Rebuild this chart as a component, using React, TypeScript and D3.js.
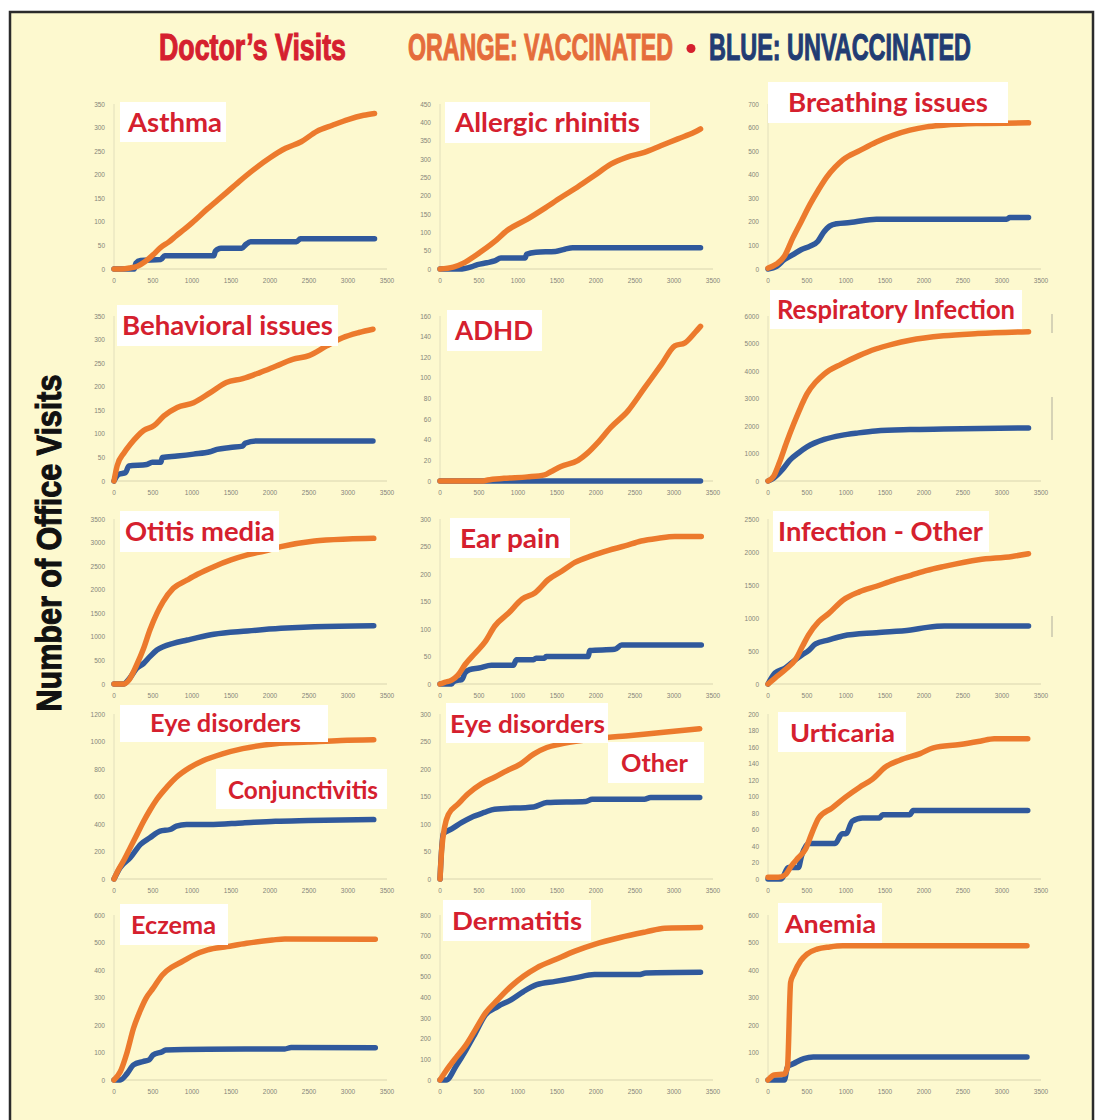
import { useLayoutEffect, useRef, useState } from 'react';
import * as d3 from 'd3';

type Pt = [number, number];

// ---- data (days since birth vs. cumulative office visits) ----
const dayTicks = [0, 500, 1000, 1500, 2000, 2500, 3000, 3500];

const conditions = [
  'Asthma', 'Allergic rhinitis', 'Breathing issues',
  'Behavioral issues', 'ADHD', 'Respiratory Infection',
  'Otitis media', 'Ear pain', 'Infection - Other',
  'Eye disorders Conjunctivitis', 'Eye disorders Other', 'Urticaria',
  'Eczema', 'Dermatitis', 'Anemia',
];
const yMaxes = [350, 450, 700, 350, 160, 6000, 3500, 300, 2500, 1200, 300, 200, 600, 800, 600];
const ySteps = [50, 50, 100, 50, 20, 1000, 500, 50, 500, 200, 50, 20, 100, 100, 100];

const asthmaVax: Pt[] = [[0, 0], [100, 0], [200, 2], [300, 6], [400, 16], [500, 30], [600, 46], [700, 57], [800, 71], [900, 84], [1000, 98], [1200, 128], [1400, 156], [1600, 185], [1800, 212], [2000, 236], [2200, 256], [2400, 270], [2600, 292], [2800, 305], [3000, 317], [3200, 326], [3340, 330]];
const asthmaUnvax: Pt[] = [[0, 0], [260, 0], [280, 12], [340, 18], [600, 20], [650, 28], [1280, 28], [1300, 38], [1370, 44], [1640, 44], [1690, 52], [1750, 58], [2340, 58], [2390, 64], [3340, 64]];

const allergicVax: Pt[] = [[0, 0], [170, 5], [300, 16], [470, 39], [690, 73], [860, 105], [1120, 136], [1330, 164], [1550, 195], [1760, 223], [1980, 255], [2190, 286], [2400, 305], [2620, 318], [2830, 336], [3050, 355], [3260, 373], [3340, 382]];
const allergicUnvax: Pt[] = [[0, 0], [250, 0], [400, 6], [480, 12], [600, 17], [700, 22], [780, 30], [1090, 30], [1110, 40], [1230, 46], [1480, 48], [1600, 54], [1700, 58], [3340, 58]];

const breathingVax: Pt[] = [[0, 4], [110, 21], [210, 54], [320, 133], [430, 204], [540, 275], [640, 332], [750, 389], [860, 432], [960, 463], [1180, 503], [1390, 539], [1600, 567], [1820, 589], [2030, 603], [2250, 610], [2670, 617], [3340, 620]];
const breathingUnvax: Pt[] = [[0, 0], [110, 11], [210, 40], [320, 61], [430, 83], [540, 97], [640, 118], [710, 154], [790, 182], [880, 192], [1050, 197], [1390, 211], [3060, 211], [3100, 218], [3340, 218]];

const behavioralVax: Pt[] = [[0, 0], [40, 32], [130, 60], [210, 78], [300, 95], [380, 107], [510, 117], [640, 138], [810, 156], [1020, 166], [1230, 187], [1440, 209], [1650, 217], [1870, 230], [2080, 244], [2290, 258], [2500, 266], [2720, 286], [2930, 304], [3140, 315], [3320, 322]];
const behavioralUnvax: Pt[] = [[0, 0], [60, 14], [150, 18], [190, 32], [420, 35], [490, 40], [600, 40], [620, 50], [810, 53], [1020, 57], [1230, 62], [1320, 67], [1490, 71], [1650, 74], [1680, 80], [1820, 85], [3320, 85]];

const adhdVax: Pt[] = [[0, 0], [560, 0], [610, 1], [820, 2.6], [1120, 4], [1340, 6], [1420, 9], [1550, 14], [1770, 20], [1890, 27], [2020, 37], [2190, 52], [2410, 68], [2620, 90], [2840, 113], [3010, 131], [3140, 134], [3270, 144], [3340, 150]];
const adhdUnvax: Pt[] = [[0, 0], [3340, 0]];

const respVax: Pt[] = [[0, 0], [70, 160], [150, 700], [240, 1420], [330, 2080], [420, 2690], [500, 3170], [610, 3590], [720, 3890], [940, 4250], [1160, 4550], [1380, 4800], [1600, 4980], [1820, 5120], [2250, 5280], [2690, 5360], [3340, 5430]];
const respUnvax: Pt[] = [[0, 0], [70, 100], [180, 400], [280, 760], [390, 1020], [500, 1240], [720, 1510], [940, 1660], [1160, 1750], [1380, 1820], [1820, 1870], [2250, 1890], [3340, 1930]];

const otitisVax: Pt[] = [[0, 0], [120, 0], [200, 106], [290, 403], [380, 757], [460, 1146], [550, 1499], [630, 1747], [760, 2030], [940, 2207], [1070, 2327], [1280, 2489], [1500, 2631], [1710, 2737], [1930, 2822], [2140, 2914], [2570, 3034], [3000, 3076], [3330, 3090]];
const otitisUnvax: Pt[] = [[0, 0], [120, 0], [200, 120], [290, 332], [380, 438], [460, 580], [550, 721], [630, 792], [760, 863], [940, 933], [1070, 983], [1280, 1054], [1710, 1124], [2140, 1181], [2570, 1216], [3330, 1237]];

const earVax: Pt[] = [[0, 0], [60, 3], [150, 7], [230, 16], [320, 35], [450, 56], [580, 77], [700, 105], [880, 129], [1050, 154], [1220, 166], [1390, 190], [1560, 205], [1730, 221], [1940, 233], [2160, 243], [2370, 251], [2580, 260], [2800, 265], [3010, 268], [3350, 268]];
const earUnvax: Pt[] = [[0, 0], [150, 0], [170, 4], [240, 7], [280, 8], [320, 20], [380, 26], [500, 29], [660, 34], [940, 34], [980, 44], [1200, 44], [1230, 47], [1340, 47], [1360, 50], [1900, 50], [1920, 61], [2240, 63], [2330, 71], [3350, 71]];

const infOtherVax: Pt[] = [[0, 0], [90, 90], [220, 216], [350, 366], [440, 567], [520, 743], [650, 944], [780, 1069], [960, 1270], [1170, 1396], [1390, 1481], [1610, 1571], [1830, 1647], [2040, 1722], [2260, 1782], [2700, 1883], [3130, 1933], [3340, 1973]];
const infOtherUnvax: Pt[] = [[0, 0], [90, 166], [220, 241], [350, 366], [440, 442], [520, 507], [610, 607], [780, 668], [960, 728], [1390, 778], [1830, 818], [2040, 858], [2260, 878], [3340, 878]];

const eyeConjVax: Pt[] = [[0, 0], [50, 60], [130, 140], [210, 230], [300, 330], [380, 420], [460, 500], [550, 580], [680, 670], [800, 740], [970, 810], [1140, 860], [1390, 910], [1650, 948], [2070, 984], [2490, 996], [2910, 1008], [3330, 1013]];
const eyeConjUnvax: Pt[] = [[0, 0], [80, 84], [210, 156], [340, 252], [460, 300], [590, 348], [720, 360], [800, 384], [930, 396], [1220, 396], [1650, 408], [2070, 420], [2490, 425], [3330, 432]];

const eyeOtherVax: Pt[] = [[0, 0], [20, 50], [60, 95], [110, 118], [230, 136], [360, 155], [530, 173], [700, 185], [860, 197], [1030, 209], [1200, 227], [1370, 239], [1530, 245], [1870, 253], [2040, 256], [2450, 261], [2870, 267], [3330, 273]];
const eyeOtherUnvax: Pt[] = [[0, 0], [40, 82], [150, 91], [280, 103], [400, 112], [570, 121], [700, 127], [1200, 131], [1370, 139], [1870, 141], [1950, 145], [2620, 145], [2700, 148], [3330, 148]];

const urticariaVax: Pt[] = [[0, 2], [130, 2], [220, 5], [300, 16], [390, 26], [480, 36], [560, 55], [650, 74], [820, 86], [990, 99], [1170, 111], [1340, 121], [1510, 136], [1690, 144], [1950, 152], [2120, 159], [2460, 163], [2720, 167], [2900, 170], [3330, 170]];
const urticariaUnvax: Pt[] = [[0, 0], [170, 0], [260, 14], [390, 14], [430, 28], [520, 43], [860, 43], [950, 55], [1000, 55], [1080, 70], [1210, 74], [1430, 74], [1470, 78], [1820, 78], [1860, 83], [3330, 83]];

const eczemaVax: Pt[] = [[0, 0], [80, 30], [170, 103], [250, 188], [330, 248], [410, 297], [500, 333], [620, 382], [750, 412], [870, 430], [1030, 455], [1200, 473], [1450, 485], [1700, 497], [2030, 509], [2190, 513], [3350, 512]];
const eczemaUnvax: Pt[] = [[0, 0], [80, 0], [170, 24], [250, 55], [370, 67], [450, 73], [500, 91], [620, 103], [660, 109], [1200, 112], [2190, 113], [2270, 118], [3350, 117]];

const dermatitisVax: Pt[] = [[0, 0], [80, 46], [210, 111], [330, 168], [450, 242], [580, 323], [740, 389], [910, 454], [1070, 503], [1240, 544], [1480, 584], [1730, 625], [1980, 658], [2310, 691], [2640, 718], [2880, 736], [3340, 740]];
const dermatitisUnvax: Pt[] = [[0, 0], [80, 0], [210, 70], [330, 144], [450, 225], [580, 315], [740, 356], [910, 389], [1070, 429], [1240, 462], [1480, 478], [1730, 495], [1980, 511], [2550, 511], [2640, 519], [3340, 522]];

const anemiaVax: Pt[] = [[0, 0], [80, 18], [210, 22], [250, 48], [290, 355], [330, 386], [420, 434], [500, 458], [630, 476], [790, 484], [960, 488], [3320, 488]];
const anemiaUnvax: Pt[] = [[0, 0], [210, 0], [250, 48], [330, 60], [460, 78], [580, 84], [3320, 84]];

const vaccinated = [asthmaVax, allergicVax, breathingVax, behavioralVax, adhdVax, respVax, otitisVax, earVax, infOtherVax, eyeConjVax, eyeOtherVax, urticariaVax, eczemaVax, dermatitisVax, anemiaVax];
const unvaccinated = [asthmaUnvax, allergicUnvax, breathingUnvax, behavioralUnvax, adhdUnvax, respUnvax, otitisUnvax, earUnvax, infOtherUnvax, eyeConjUnvax, eyeOtherUnvax, urticariaUnvax, eczemaUnvax, dermatitisUnvax, anemiaUnvax];

// ---- layout ----
const W = 1097;
const H = 1120;
const colX = [114, 440, 768];
const rowY = [269, 481, 684, 879, 1080];
const plotW = 273;
const plotH = 165;

const ORANGE = '#ec7a2d';
const BLUE = '#30599c';
const RED = '#d5202e';
const CREAM = '#fdf9cf';
const HEAVY = "'Liberation Sans', Arial, sans-serif";

// label boxes: [x, y, w, h, textX, textWidth, fontSize, text]
type Box = [number, number, number, number, number, number, number, string];
const labelBoxes: Box[][] = [
  [[120, 102, 106, 40, 128, 94, 27, 'Asthma']],
  [[445, 102, 205, 41, 455, 185, 27, 'Allergic rhinitis']],
  [[768, 82, 240, 41, 788, 200, 27, 'Breathing issues']],
  [[117, 305, 221, 41, 122, 211, 27, 'Behavioral issues']],
  [[447, 310, 95, 41, 455, 78, 27, 'ADHD']],
  [[770, 290, 252, 39, 777, 238, 26, 'Respiratory Infection']],
  [[120, 511, 159, 41, 125, 150, 27, 'Otitis media']],
  [[450, 518, 120, 40, 460, 100, 27, 'Ear pain']],
  [[773, 511, 216, 41, 778, 205, 27, 'Infection - Other']],
  [[120, 705, 208, 37, 150, 151, 24, 'Eye disorders'], [216, 769, 171, 40, 228, 150, 24, 'Conjunctivitis']],
  [[446, 703, 162, 40, 450, 155, 24, 'Eye disorders'], [608, 742, 96, 41, 621, 67, 24, 'Other']],
  [[778, 712, 128, 40, 790, 105, 25, 'Urticaria']],
  [[120, 904, 108, 41, 131, 85, 25, 'Eczema']],
  [[443, 900, 148, 41, 452, 130, 25, 'Dermatitis']],
  [[778, 903, 104, 40, 785, 91, 25, 'Anemia']],
];

// heavy text squeezed horizontally to a target width (poster-style condensed type)
function FitText({ x, y, width, size, fill, rotate = 0, anchor = 'start', children }:
  { x: number; y: number; width: number; size: number; fill: string; rotate?: number; anchor?: string; children: string }) {
  const ref = useRef<SVGTextElement>(null);
  const [sx, setSx] = useState(0.6);
  useLayoutEffect(() => {
    if (!ref.current) return;
    const natural = ref.current.getComputedTextLength();
    if (natural > 0) setSx(width / natural);
  }, [width, children]);
  return (
    <text ref={ref} transform={`translate(${x},${y}) rotate(${rotate}) scale(${sx},1)`}
      textAnchor={anchor} fontSize={size} fontWeight={700} fill={fill} stroke={fill}
      strokeWidth={1.1} fontFamily={HEAVY}>{children}</text>
  );
}

function Panel({ i }: { i: number }) {
  const col = i % 3;
  const row = Math.floor(i / 3);
  const x0 = colX[col];
  const y0 = rowY[row];
  const x = d3.scaleLinear().domain([0, 3500]).range([x0, x0 + plotW]);
  const y = d3.scaleLinear().domain([0, yMaxes[i]]).range([y0, y0 - plotH]);
  const yTicks = d3.range(0, yMaxes[i] + 1e-6, ySteps[i]);
  const line = d3.line<Pt>()
    .x(d => x(d[0]))
    .y(d => y(d[1]))
    .curve(d3.curveMonotoneX);

  return (
    <g>
      <line x1={x0} x2={x(3500)} y1={y0} y2={y0} stroke="#d9d5b0" strokeWidth={1} />
      <line x1={x0} x2={x0} y1={y0} y2={y(yMaxes[i])} stroke="#e2dfbc" strokeWidth={1} />
      {yTicks.map(t => (
        <text key={'y' + t} x={x0 - 9} y={y(t)} textAnchor="end" dominantBaseline="central"
          fontSize={6.5} fill="#85857a" fontFamily="Liberation Sans, Arial, sans-serif">{t}</text>
      ))}
      {dayTicks.map(t => (
        <text key={'x' + t} x={x(t)} y={y0 + 11} textAnchor="middle" dominantBaseline="central"
          fontSize={6.5} fill="#85857a" fontFamily="Liberation Sans, Arial, sans-serif">{t}</text>
      ))}
      <path d={line(unvaccinated[i]) ?? ''} fill="none" stroke={BLUE} strokeWidth={5.5}
        strokeLinecap="round" strokeLinejoin="round" />
      <path d={line(vaccinated[i]) ?? ''} fill="none" stroke={ORANGE} strokeWidth={5.5}
        strokeLinecap="round" strokeLinejoin="round" />
      {labelBoxes[i].map(([bx, by, bw, bh, tx, tw, fs, txt], k) => (
        <g key={k}>
          <rect x={bx} y={by} width={bw} height={bh} fill="#ffffff" />
          <text x={tx} y={by + bh * 0.74} fontSize={fs} fontWeight={700} fill={RED}
            fontFamily="Lato, 'Open Sans', sans-serif" textLength={tw}
            lengthAdjust="spacingAndGlyphs">{txt}</text>
        </g>
      ))}
    </g>
  );
}

export default function App() {
  return (
    <svg width={W} height={H} viewBox={`0 0 ${W} ${H}`}
      style={{ position: 'absolute', left: 0, top: 0, display: 'block' }}>
      <rect x={0} y={0} width={W} height={H} fill="#ffffff" />
      <rect x={10} y={12} width={1083} height={H} fill={CREAM} stroke="#2b2b2b" strokeWidth={2.5} />

      {/* header */}
      <FitText x={159} y={60} width={187} size={37} fill={RED}>Doctor’s Visits</FitText>
      <FitText x={408} y={60} width={265} size={37} fill="#e56d3b">ORANGE: VACCINATED</FitText>
      <circle cx={691} cy={48.5} r={4.5} fill={RED} />
      <FitText x={709} y={60} width={262} size={37} fill="#223c73">BLUE: UNVACCINATED</FitText>

      {/* shared y-axis title */}
      <FitText x={61} y={543} width={337} size={35} fill="#111111" rotate={-90} anchor="middle">
        Number of Office Visits
      </FitText>

      {/* faint scan marks at the right edge */}
      <line x1={1052} x2={1052} y1={314} y2={333} stroke="#c9c6ae" strokeWidth={1.5} />
      <line x1={1052} x2={1052} y1={397} y2={440} stroke="#c9c6ae" strokeWidth={1.5} />
      <line x1={1052} x2={1052} y1={616} y2={637} stroke="#c9c6ae" strokeWidth={1.5} />

      {conditions.map((c, i) => <Panel key={c + i} i={i} />)}
    </svg>
  );
}
